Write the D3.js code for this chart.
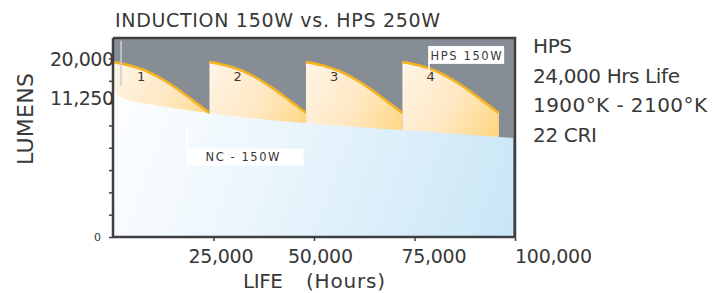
<!DOCTYPE html>
<html>
<head>
<meta charset="utf-8">
<script src="https://cdn.jsdelivr.net/npm/d3@7"></script>
<style>
  body { margin: 0; background: #fff; }
  text { font-family: "DejaVu Sans", sans-serif; fill: #383838; }
</style>
</head>
<body>
<div id="chart"></div>
<script>
// ---- data ----
// HPS lamp: one 24,000 hr life cycle, relamped 4 times
const hpsCycleStarts = [0, 24000, 48000, 72000];
const hpsCycleHours = [0, 4000, 8000, 12000, 16000, 20000, 24000];
const hpsCycleLumens = [19600, 19250, 18650, 17750, 16600, 15250, 13900];
const cycleLabels = ["1", "2", "3", "4"];

// Induction (NC) lamp lumen curve
const ncHours = [0, 800, 2000, 4000, 8000, 15000, 25000, 50000, 75000, 99500];
const ncLumens = [16900, 16200, 15650, 15300, 14950, 14450, 13800, 12700, 11900, 11100];

// axes
const xTicks = [25000, 50000, 75000, 100000];
const xTickLabels = ["25,000", "50,000", "75,000", "100,000"];
const yTicks = [0, 2500, 5000, 7500, 10000, 12500, 15000, 17500, 20000];
const yLabelText = ["0", "11,250", "20,000"];
const yLabelAt = [0, 15600, 20000];   // where the labels sit in the picture

const infoLines = ["HPS", "24,000 Hrs Life", "1900°K - 2100°K", "22 CRI"];

// ---- layout ----
const width = 724, height = 293;
const margin = {left: 113, right: 209, top: 38, bottom: 56};

const svg = d3.select("#chart")
    .append("svg")
    .attr("width", width)
    .attr("height", height);

const x = d3.scaleLinear().domain([0, 100000]).range([margin.left, width - margin.right]);
const y = d3.scaleLinear().domain([0, 22300]).range([height - margin.bottom, margin.top]);

const defs = svg.append("defs");

// blue gradient for induction area
const blue = defs.append("linearGradient")
    .attr("id", "blueGrad")
    .attr("gradientUnits", "userSpaceOnUse")
    .attr("x1", x(0)).attr("y1", y(17000))
    .attr("x2", x(100000)).attr("y2", y(0));
blue.append("stop").attr("offset", 0).attr("stop-color", "#fdfeff");
blue.append("stop").attr("offset", 0.35).attr("stop-color", "#eef7fd");
blue.append("stop").attr("offset", 1).attr("stop-color", "#c9e6f6");

// gray plot background
svg.append("rect")
    .attr("x", x(0)).attr("y", y(22300))
    .attr("width", x(100000) - x(0))
    .attr("height", y(0) - y(22300))
    .attr("fill", "#878d94");

const hpsLine = d3.line()
    .x(d => x(d[0])).y(d => y(d[1]))
    .curve(d3.curveMonotoneX);

const hpsArea = d3.area()
    .x(d => x(d[0])).y0(y(0)).y1(d => y(d[1]))
    .curve(d3.curveMonotoneX);

const cycles = hpsCycleStarts.map(s => hpsCycleHours.map((h, i) => [s + h, hpsCycleLumens[i]]));

// cream fill under each HPS cycle
cycles.forEach((pts, i) => {
    const s = hpsCycleStarts[i];
    const g = defs.append("linearGradient")
        .attr("id", "cream" + i)
        .attr("gradientUnits", "userSpaceOnUse")
        .attr("x1", x(s)).attr("y1", y(19000))
        .attr("x2", x(s + 24000)).attr("y2", y(12500));
    g.append("stop").attr("offset", 0).attr("stop-color", "#fff4e6");
    g.append("stop").attr("offset", 0.55).attr("stop-color", "#ffe8c2");
    g.append("stop").attr("offset", 1).attr("stop-color", "#ffd785");

    svg.append("path")
        .datum(pts)
        .attr("d", hpsArea)
        .attr("fill", `url(#cream${i})`);
});

// induction area
const ncData = ncHours.map((h, i) => [h, ncLumens[i]]);
svg.append("path")
    .datum(ncData)
    .attr("d", d3.area()
        .x(d => x(d[0])).y0(y(0)).y1(d => y(d[1]))
        .curve(d3.curveMonotoneX))
    .attr("fill", "url(#blueGrad)");

// orange HPS curves
cycles.forEach(pts => {
    svg.append("path")
        .datum(pts)
        .attr("d", hpsLine)
        .attr("fill", "none")
        .attr("stroke", "#f5b223")
        .attr("stroke-width", 2.6);
});

// thin leader line near cycle 1
svg.append("line")
    .attr("x1", x(2000)).attr("x2", x(2000))
    .attr("y1", y(22000)).attr("y2", y(16900))
    .attr("stroke", "#c5d0d8")
    .attr("stroke-width", 1.5);

// cycle numbers
svg.selectAll(".cycle")
    .data(cycleLabels)
    .enter()
    .append("text")
    .attr("x", (d, i) => x(hpsCycleStarts[i] + 7000))
    .attr("y", y(17500))
    .attr("text-anchor", "middle")
    .style("font-size", "13px")
    .text(d => d);

// HPS 150W callout
svg.append("line")
    .attr("x1", x(78600)).attr("x2", x(78600))
    .attr("y1", y(19800)).attr("y2", y(18500))
    .attr("stroke", "#fff").attr("stroke-width", 1.5);
svg.append("rect")
    .attr("x", x(78400)).attr("y", y(21400))
    .attr("width", x(97300) - x(78400))
    .attr("height", y(19400) - y(21400))
    .attr("fill", "#fff");
svg.append("text")
    .attr("x", x(79000)).attr("y", y(19850))
    .style("font-size", "11.5px")
    .attr("textLength", 71)
    .text("HPS 150W");

// NC - 150W callout
svg.append("line")
    .attr("x1", x(18400)).attr("x2", x(18400))
    .attr("y1", y(12300)).attr("y2", y(9900))
    .attr("stroke", "#fff").attr("stroke-width", 1.5);
svg.append("rect")
    .attr("x", x(18300)).attr("y", y(9900))
    .attr("width", x(47400) - x(18300))
    .attr("height", y(8000) - y(9900))
    .attr("fill", "#fff");
svg.append("text")
    .attr("x", x(23000)).attr("y", y(8500))
    .style("font-size", "11.5px")
    .attr("textLength", 74)
    .text("NC - 150W");

// frame: top and right borders
svg.append("path")
    .attr("d", `M${x(0)},${y(22300)}H${x(100000)}V${y(0)}`)
    .attr("fill", "none")
    .attr("stroke", "#3d3f42")
    .attr("stroke-width", 2.5);

// x axis
const xAxis = svg.append("g")
    .attr("transform", `translate(0,${y(0)})`)
    .call(d3.axisBottom(x).tickValues(xTicks).tickFormat((d, i) => xTickLabels[i]).tickSize(4).tickSizeOuter(0));
xAxis.select(".domain").attr("stroke", "#3d3f42").attr("stroke-width", 2.5)
    .attr("d", `M${x(0)},0H${x(100000)}`);
xAxis.selectAll(".tick line").attr("stroke", "#3d3f42").attr("stroke-width", 1.5);
const xShift = [7, 6, 19, 38];
xAxis.selectAll(".tick text")
    .attr("y", 26)
    .attr("dy", 0)
    .attr("dx", (d, i) => xShift[i])
    .attr("fill", "#383838")
    .style("font-family", "DejaVu Sans, sans-serif")
    .style("font-size", "19px")
    .attr("textLength", (d, i) => i === 3 ? 77 : 65);

// y axis
const yAxis = svg.append("g")
    .attr("transform", `translate(${x(0)},0)`)
    .call(d3.axisLeft(y).tickValues(yTicks).tickFormat("").tickSize(4).tickSizeOuter(0));
yAxis.select(".domain").attr("stroke", "#3d3f42").attr("stroke-width", 2.5)
    .attr("d", `M0,${y(22300)}V${y(0)}`);
yAxis.selectAll(".tick line").attr("stroke", "#3d3f42").attr("stroke-width", 1.5);

svg.selectAll(".ylab")
    .data(yLabelText)
    .enter()
    .append("text")
    .attr("x", x(0) + 1)
    .attr("y", (d, i) => y(yLabelAt[i]))
    .attr("dy", (d, i) => i === 0 ? 4 : 7)
    .attr("dx", (d, i) => i === 0 ? -13 : 0)
    .attr("text-anchor", "end")
    .style("font-size", (d, i) => i === 0 ? "11px" : "19px")
    .attr("textLength", (d, i) => i === 0 ? null : 64)
    .text(d => d);

// axis titles
svg.append("text")
    .attr("transform", `translate(33,119) rotate(-90)`)
    .attr("text-anchor", "middle")
    .style("font-size", "22px")
    .attr("textLength", 92)
    .text("LUMENS");

svg.append("text")
    .attr("x", 243).attr("y", 288)
    .style("font-size", "20px")
    .attr("textLength", 40)
    .text("LIFE");
svg.append("text")
    .attr("x", 306).attr("y", 288)
    .style("font-size", "20px")
    .attr("textLength", 79)
    .text("(Hours)");

// title
svg.append("text")
    .attr("x", 115).attr("y", 27)
    .style("font-size", "19px")
    .attr("textLength", 325)
    .text("INDUCTION 150W vs. HPS 250W");

// HPS info block
const infoWidths = [39, 147, 174, 64];
svg.selectAll(".info")
    .data(infoLines)
    .enter()
    .append("text")
    .attr("x", 533)
    .attr("y", (d, i) => 53 + i * 29.7)
    .style("font-size", "20px")
    .attr("textLength", (d, i) => infoWidths[i])
    .text(d => d);
</script>
</body>
</html>
